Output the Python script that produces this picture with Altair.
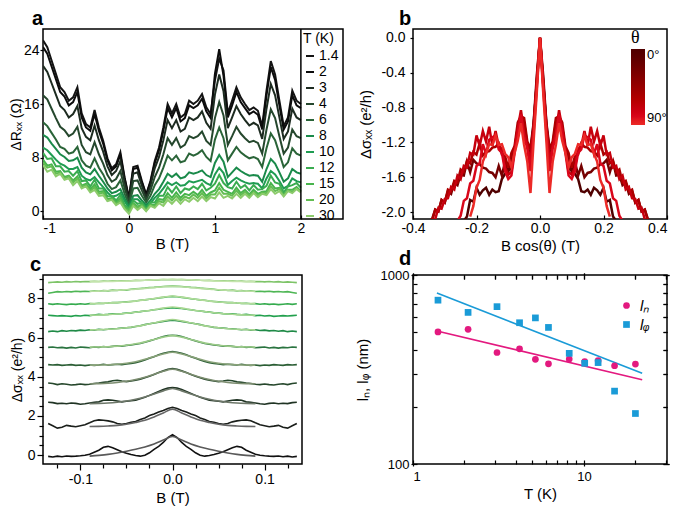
import altair as alt
import pandas as pd

FONT = "Liberation Sans"

# ---------------- panel a : Delta R_xx vs B for several T ----------------
A_T = ["1.4", "2", "3", "4", "6", "8", "10", "12", "15", "20", "30"]
A_COLORS = ["#141414", "#0c0c0c", "#1d2b20", "#25472d", "#2a6438", "#1a8a4a",
            "#1f9c52", "#3aac50", "#48b44c", "#62bd52", "#8dcb6c"]
A_B = [round(-1 + 0.05 * i, 2) for i in range(61)]

A14 = [25.5,24.5,22.5,20.5,18.5,17.8,16.5,17.0,18.5,14.6,13.0,12.5,15.1,12.5,10.5,7.9,6.4,7.0,8.8,5.0,
       2.0,6.6,6.8,4.5,2.5,4.5,7.5,9.5,12.5,16.0,14.6,16.0,14.0,14.5,16.5,16.0,16.5,17.5,15.5,14.5,
       19.5,22.8,21.0,14.6,16.5,18.5,17.0,16.0,15.1,15.5,15.0,12.7,18.0,22.4,20.4,16.5,12.7,14.0,18.0,16.5,16.0]
A2 = [24.5,23.5,21.6,19.7,17.8,17.1,15.8,16.3,17.8,14.0,12.5,12.0,14.5,12.0,10.1,7.6,6.1,6.7,8.4,4.8,
      1.9,6.3,6.5,4.3,2.4,4.3,7.2,9.1,12.0,15.4,14.0,15.4,13.4,13.9,15.8,15.4,15.8,16.8,14.9,13.9,
      20.5,24.2,20.2,14.0,15.8,17.8,16.3,15.4,14.5,14.9,14.4,12.2,17.3,21.5,19.6,15.8,12.2,13.4,17.3,15.8,15.4]
A3 = [21.7,20.8,19.1,17.4,15.7,15.1,14.0,14.5,15.7,12.4,11.1,10.6,12.8,10.6,8.9,6.7,5.4,6.0,7.5,4.3,
      1.7,5.6,5.8,3.8,2.1,3.8,6.4,8.1,10.6,13.6,12.4,13.6,11.9,12.3,14.0,13.6,14.0,14.9,13.2,12.3,
      17.4,20.4,17.9,12.4,14.0,15.7,14.5,13.6,12.8,13.2,12.8,10.8,15.3,19.0,17.3,14.0,10.8,11.9,15.3,14.0,13.6]
A4 = [17.3,16.7,15.3,13.9,12.6,12.1,11.2,11.6,12.6,9.9,8.8,8.5,10.3,8.5,7.1,5.4,4.4,4.8,6.0,3.4,
      1.4,4.5,4.6,3.1,1.7,3.1,5.1,6.5,8.5,10.9,9.9,10.9,9.5,9.9,11.2,10.9,11.2,11.9,10.5,9.9,
      13.9,16.3,14.3,9.9,11.2,12.6,11.6,10.9,10.3,10.5,10.2,8.6,12.2,15.2,13.9,11.2,8.6,9.5,12.2,11.2,10.9]
A6 = [13.3,12.7,11.7,10.7,9.6,9.3,8.6,8.8,9.6,7.6,6.8,6.5,7.9,6.5,5.5,4.1,3.3,3.6,4.6,2.6,
      1.0,3.4,3.5,2.3,1.3,2.3,3.9,4.9,6.5,8.3,7.6,8.3,7.3,7.5,8.6,8.3,8.6,9.1,8.1,7.5,
      10.7,12.5,10.9,7.6,8.6,9.6,8.8,8.3,7.9,8.1,7.8,6.6,9.4,11.6,10.6,8.6,6.6,7.3,9.4,8.6,8.3]
A8 = [11.4,11.0,10.1,9.3,8.5,8.1,7.5,7.6,8.0,6.5,5.8,5.5,6.3,5.3,4.4,3.4,2.7,2.9,3.3,1.9,
      0.7,2.3,2.4,1.6,0.9,1.6,2.6,3.3,4.4,5.6,5.1,5.6,4.9,5.1,5.8,5.6,5.8,6.1,5.4,5.1,
      7.2,8.4,7.4,5.1,5.8,6.5,6.0,5.6,5.3,5.4,5.3,4.4,6.3,7.8,7.1,5.8,4.4,4.9,6.3,5.8,5.6]
A10 = [9.5,9.1,8.4,7.7,7.1,6.8,6.3,6.3,6.6,5.3,4.8,4.6,5.1,4.3,3.6,2.8,2.2,2.3,2.7,1.5,
       0.5,1.8,1.8,1.2,0.7,1.2,2.0,2.6,3.4,4.3,3.9,4.3,3.8,3.9,4.5,4.3,4.5,4.7,4.2,3.9,
       5.5,6.5,5.7,3.9,4.5,5.0,4.6,4.3,4.1,4.2,4.1,3.4,4.9,6.0,5.5,4.5,3.4,3.8,4.9,4.5,4.3]
A12 = [8.7,7.8,7.9,6.7,6.7,5.9,6.0,5.3,6.0,4.5,4.6,3.7,4.7,3.4,3.4,2.2,2.3,1.6,2.4,0.9,
       0.4,1.6,1.1,1.3,0.3,1.3,1.3,2.3,2.3,3.6,2.8,3.7,2.7,3.4,3.2,3.7,3.3,4.1,3.1,3.5,
       4.1,5.4,4.2,3.6,3.4,4.4,3.5,3.9,3.1,3.9,3.2,3.3,3.8,5.3,4.3,4.1,2.8,3.7,3.9,4.2,3.5]
A15 = [7.7,6.8,7.0,5.9,6.0,5.1,5.3,4.6,5.2,3.8,4.1,3.3,4.0,2.9,3.0,1.8,2.0,1.3,1.9,0.6,
       0.2,1.2,0.7,1.0,0.2,1.0,0.9,1.8,1.7,2.7,2.0,2.8,2.0,2.6,2.4,2.9,2.4,3.2,2.3,2.8,
       3.1,4.2,3.2,2.9,2.6,3.5,2.7,3.2,2.5,3.2,2.6,2.9,3.0,4.2,3.4,3.5,2.4,3.2,3.2,3.6,3.0]
A20 = [7.3,6.5,6.7,5.6,5.8,4.9,5.2,4.3,4.9,3.7,3.9,3.0,3.6,2.6,2.8,1.6,1.8,1.1,1.6,0.4,
       0.0,1.0,0.5,0.9,0.1,0.9,0.7,1.5,1.3,2.2,1.6,2.3,1.6,2.2,1.9,2.5,2.0,2.7,1.9,2.5,
       2.5,3.5,2.6,2.6,2.3,3.1,2.4,2.9,2.3,2.9,2.3,2.8,2.7,3.7,3.0,3.3,2.3,3.1,2.9,3.4,2.9]
A30 = [6.9,5.9,6.2,5.2,5.6,4.7,4.9,3.9,4.5,3.4,3.7,2.8,3.2,2.3,2.4,1.5,1.7,0.9,1.3,0.3,
       -0.4,0.8,0.2,0.7,0.0,0.8,0.5,1.2,0.8,1.7,1.1,1.8,1.1,1.8,1.4,2.0,1.5,2.2,1.5,2.1,
       1.9,2.8,2.0,2.3,1.9,2.6,2.0,2.6,2.0,2.7,2.1,2.6,2.4,3.3,2.6,3.0,2.2,3.0,2.7,3.3,2.8]
A_SERIES = [A14, A2, A3, A4, A6, A8, A10, A12, A15, A20, A30]

# ---------------- panel b : Delta sigma vs B cos(theta) ----------------
B_X = [round(0.01 * i, 2) for i in range(36)]
B_THETA = [0, 25, 55, 70, 80, 90]
B_0 = [0.0,-0.52,-0.98,-1.38,-1.22,-1.08,-0.93,-1.14,-1.27,-1.5,-1.52,-1.56,-1.62,-1.76,-1.77,-1.74,-1.8,
       -1.72,-1.75,-1.8,-1.72,-1.88,-1.86,-2.05,-2.1]
B_25 = [0.0,-0.43,-0.97,-1.27,-1.23,-0.97,-0.93,-1.02,-1.29,-1.37,-1.54,-1.42,-1.58,-1.47,-1.6,-1.55,-1.54,
        -1.5,-1.49,-1.45,-1.44,-1.4,-1.54,-1.42,-1.58,-1.57,-1.69,-1.66,-1.79,-1.76,-1.89,-1.86,-1.99,-1.97,
        -2.08,-2.1]
B_55 = [0.0,-0.48,-1.03,-1.27,-1.19,-0.92,-0.9,-0.97,-1.24,-1.32,-1.49,-1.36,-1.34,-1.21,-1.25,-1.26,-1.3,
        -1.31,-1.35,-1.21,-1.34,-1.31,-1.44,-1.41,-1.54,-1.51,-1.66,-1.64,-1.76,-1.74,-1.89,-1.86,-1.99,-1.97,
        -2.1]
B_70 = [0.0,-0.52,-1.02,-1.43,-1.22,-1.09,-0.83,-1.04,-1.27,-1.54,-1.57,-1.49,-1.27,-1.24,-1.07,-1.24,-1.02,
        -1.19,-1.07,-1.24,-1.12,-1.34,-1.32,-1.49,-1.47,-1.62,-1.58,-1.74,-1.71,-1.84,-1.85,-1.96,-1.95,-2.08]
B_80 = [0.0,-0.57,-1.08,-1.53,-1.27,-1.13,-0.88,-1.08,-1.32,-1.58,-1.62,-1.53,-1.32,-1.28,-1.12,-1.14,-1.17,
        -1.33,-1.22,-1.44,-1.47,-1.64,-1.67,-1.84,-1.87,-2.04,-2.1]
B_90 = [0.0,-0.62,-1.18,-1.78,-1.42,-1.23,-0.98,-1.18,-1.32,-1.48,-1.37,-1.33,-1.22,-1.23,-1.12,-1.23,-1.22,
        -1.33,-1.42,-1.63,-1.72,-1.93,-2.05]
B_SERIES = [B_0, B_25, B_55, B_70, B_80, B_90]

# ---------------- panel c : stacked Delta sigma vs B with fits ----------------
C_X = [round(0.005 * i, 3) for i in range(28)]
C_COLORS = ["#111111", "#1b1f1b", "#203424", "#26472c", "#2b5e35", "#2a7440",
            "#1f8a47", "#22a04d", "#35ab4e", "#4fb655", "#7ec468"]
C_FIT_COLORS = ["#5a5a5a", "#666666", "#6e786a", "#7c8d70", "#8aa37a", "#9ccb88",
                "#a6d48f", "#aad892", "#b2dc9a", "#b8dea0", "#c4e4ac"]
C1 = [1.05,0.9,0.65,0.45,0.3,0.12,0.0,-0.05,-0.02,0.03,0.1,0.18,0.28,0.38,0.45,0.4,0.25,0.15,0.05,0.0,
      -0.03,-0.05,-0.06,-0.04,-0.08,-0.05,-0.09,-0.06]
C2 = [2.44,2.38,2.28,2.2,2.1,2.02,1.9,1.82,1.72,1.68,1.62,1.58,1.62,1.7,1.75,1.78,1.8,1.76,1.65,1.55,
      1.5,1.45,1.48,1.52,1.42,1.38,1.5,1.62]
C3 = [3.45,3.42,3.35,3.25,3.15,3.05,2.95,2.88,2.8,2.78,2.75,2.72,2.76,2.8,2.82,2.8,2.72,2.7,2.66,2.62,
      2.6,2.64,2.66,2.62,2.65,2.63,2.68,2.7]
C4 = [4.42,4.38,4.3,4.22,4.12,4.02,3.95,3.88,3.82,3.78,3.75,3.78,3.82,3.8,3.74,3.72,3.68,3.66,3.62,3.6,
      3.63,3.6,3.58,3.62,3.64,3.6,3.66,3.68]
C5 = [5.28,5.25,5.2,5.12,5.02,4.95,4.86,4.78,4.72,4.68,4.65,4.62,4.64,4.62,4.6,4.64,4.6,4.58,4.6,4.57,
      4.6,4.58,4.62,4.6,4.58,4.62,4.6,4.62]
C6 = [6.12,6.1,6.05,5.98,5.9,5.83,5.76,5.7,5.66,5.62,5.6,5.56,5.58,5.55,5.52,5.54,5.5,5.52,5.48,5.5,
      5.52,5.47,5.5,5.46,5.5,5.48,5.52,5.5]
C7 = [6.88,6.86,6.82,6.78,6.74,6.7,6.66,6.6,6.56,6.52,6.5,6.48,6.46,6.45,6.42,6.4,6.42,6.38,6.4,6.36,
      6.38,6.34,6.36,6.32,6.35,6.3,6.33,6.3]
C8 = [7.52,7.5,7.48,7.44,7.42,7.38,7.35,7.32,7.3,7.26,7.25,7.22,7.2,7.21,7.18,7.16,7.18,7.15,7.12,7.14,
      7.1,7.12,7.08,7.1,7.12,7.1,7.12,7.14]
C9 = [8.1,8.08,8.05,8.02,7.98,7.95,7.92,7.9,7.86,7.84,7.82,7.8,7.78,7.79,7.76,7.74,7.75,7.72,7.73,7.7,
      7.72,7.69,7.71,7.68,7.7,7.72,7.69,7.72]
C10 = [8.62,8.61,8.6,8.58,8.56,8.55,8.52,8.5,8.48,8.46,8.42,8.44,8.4,8.42,8.38,8.4,8.36,8.38,8.35,8.36,
       8.34,8.36,8.33,8.35,8.32,8.34,8.3,8.26]
C11 = [8.96,8.95,8.96,8.94,8.93,8.94,8.92,8.91,8.92,8.9,8.89,8.9,8.88,8.89,8.87,8.88,8.86,8.87,8.85,8.86,
       8.84,8.86,8.83,8.85,8.82,8.84,8.82,8.8]
C_SERIES = [C1, C2, C3, C4, C5, C6, C7, C8, C9, C10, C11]

C_FIT_X = [0.0, 0.01, 0.02, 0.03, 0.04, 0.05, 0.06, 0.07, 0.08, 0.09]
F1 = [0.95, 0.77, 0.57, 0.42, 0.3, 0.2, 0.11, 0.04, -0.01, -0.05]
F2 = [2.35, 2.15, 1.95, 1.78, 1.67, 1.58, 1.52, 1.49, 1.47, 1.46]
F3 = [3.4, 3.28, 3.12, 2.97, 2.85, 2.76, 2.7, 2.66, 2.64, 2.63]
F4 = [4.38, 4.28, 4.13, 3.98, 3.86, 3.77, 3.71, 3.67, 3.65, 3.64]
F5 = [5.25, 5.16, 5.03, 4.89, 4.77, 4.69, 4.64, 4.61, 4.6, 4.59]
F6 = [6.1, 6.02, 5.9, 5.78, 5.68, 5.61, 5.56, 5.53, 5.52, 5.51]
F7 = [6.92, 6.85, 6.75, 6.65, 6.56, 6.5, 6.45, 6.42, 6.4, 6.39]
F8 = [7.56, 7.5, 7.42, 7.35, 7.29, 7.24, 7.2, 7.17, 7.15, 7.14]
F9 = [8.12, 8.06, 7.99, 7.92, 7.86, 7.81, 7.78, 7.76, 7.74, 7.73]
F10 = [8.62, 8.59, 8.55, 8.51, 8.47, 8.44, 8.41, 8.39, 8.37, 8.36]
F11 = [8.97, 8.96, 8.94, 8.92, 8.9, 8.88, 8.87, 8.86, 8.85, 8.85]
F_SERIES = [F1, F2, F3, F4, F5, F6, F7, F8, F9, F10, F11]

# ---------------- panel d : lengths vs T ----------------
D_T = [1.4, 2.1, 3.1, 4.2, 5.2, 6.2, 8.2, 10.1, 12.1, 15.1, 20.0]
D_LN = [500, 516, 389, 407, 358, 339, 359, 348, 352, 331, 338]
D_LPHI = [736, 634, 680, 559, 593, 528, 385, 341, 344, 243, 185]
D_FIT_T = [1.38, 21.9]
D_FIT_LN = [505, 279]
D_FIT_LPHI = [802, 302]
D_NAMES = ["l\u2099", "l\u1d69"]
D_XTICKS = [1, 2, 3, 4, 5, 6, 7, 8, 9, 10, 20, 30]
D_YTICKS = [100, 200, 300, 400, 500, 600, 700, 800, 900, 1000]


def mirror(xs, vals):
    n = len(vals)
    out = [(-xs[i], vals[i]) for i in range(n - 1, 0, -1)]
    out += [(xs[i], vals[i]) for i in range(n)]
    return out


def hyph(fmt):
    return "(datum.value < 0 ? '-' : '') + format(abs(datum.value), '" + fmt + "')"


def letter(s, dx, dy=-4):
    return alt.Chart(pd.DataFrame({"t": [s]})).mark_text(
        fontSize=20, fontWeight="bold", font=FONT, align="left", baseline="alphabetic", color="black"
    ).encode(text="t:N", x=alt.value(dx), y=alt.value(dy))


# ---- panel a chart
rows = []
for t, vals in zip(A_T, A_SERIES):
    for b, v in zip(A_B, vals):
        rows.append({"B": b, "dR": v, "T": t})
df_a = pd.DataFrame(rows)

a_lines = alt.Chart(df_a).mark_line(strokeWidth=2, clip=True).encode(
    x=alt.X("B:Q", scale=alt.Scale(domain=[-1, 2.49], nice=False, zero=False),
            axis=alt.Axis(values=[-1, 0, 1, 2], labelExpr=hyph("d"), title="B (T)", titleX=129,
                          offset=-4, tickSize=4, labelPadding=2, titlePadding=1)),
    y=alt.Y("dR:Q", scale=alt.Scale(domain=[-1.16, 27.2], nice=False, zero=False),
            axis=alt.Axis(values=[0, 8, 16, 24], title="\u0394R\u2093\u2093 (\u03a9)", titleFontSize=14,
                          tickSize=3, labelPadding=1, titlePadding=0)),
    color=alt.Color("T:N", scale=alt.Scale(domain=A_T, range=A_COLORS), sort=A_T,
                    legend=alt.Legend(orient="none", legendX=260, legendY=3, title="T (K)",
                                      symbolType="stroke", symbolSize=64, symbolStrokeWidth=2,
                                      labelFontSize=14, titleFontSize=14, titleFontWeight="normal",
                                      rowPadding=2, labelOffset=2, padding=0, titlePadding=3)),
)
a_rule = alt.Chart(pd.DataFrame({"B": [2]})).mark_rule(color="black", strokeWidth=1.5).encode(x="B:Q")
panel_a = alt.layer(a_lines, a_rule, letter("a", -11)).properties(width=300, height=190)

# ---- panel b chart
rows = []
for th, vals in zip(B_THETA, B_SERIES):
    for x, v in mirror(B_X, vals):
        rows.append({"x": x, "ds": v, "theta": th})
df_b = pd.DataFrame(rows)

b_lines = alt.Chart(df_b).mark_line(strokeWidth=2.5, clip=True).encode(
    x=alt.X("x:Q", scale=alt.Scale(domain=[-0.4, 0.4], nice=False, zero=False),
            axis=alt.Axis(values=[-0.4, -0.2, 0, 0.2, 0.4], labelExpr=hyph(".1f"),
                          labelAlign={"condition": {"test": "datum.value > 0.35", "value": "right"},
                                      "value": "center"},
                          title="B cos(\u03b8) (T)", offset=-4, tickSize=4, labelPadding=2, titlePadding=3)),
    y=alt.Y("ds:Q", scale=alt.Scale(domain=[-2.078, 0.1], nice=False, zero=False),
            axis=alt.Axis(values=[-2.0, -1.6, -1.2, -0.8, -0.4, 0.0], labelExpr=hyph(".1f"),
                          title="\u0394\u03c3\u2093\u2093 (e\u00b2/h)", tickSize=3, labelPadding=5,
                          titlePadding=7)),
    color=alt.Color("theta:Q", scale=alt.Scale(domain=[90, 0], range=["#ec2a27", "#000000"]),
                    legend=alt.Legend(orient="none", legendX=218, legendY=0, title="\u03b8",
                                      titleFont="Liberation Serif", titleFontSize=18,
                                      titleFontWeight="normal", gradientLength=76, gradientThickness=14,
                                      values=[0, 90], labelExpr="datum.value + '\u00b0'", labelFontSize=13,
                                      direction="vertical", gradientStrokeWidth=0, titlePadding=2,
                                      padding=0)),
    detail="theta:N",
    order=alt.Order("x:Q"),
)
panel_b = alt.layer(b_lines, letter("b", -14)).properties(width=254, height=190)

# ---- panel c chart
rows = []
for k, vals in enumerate(C_SERIES):
    for x, v in mirror(C_X, vals):
        rows.append({"B": x, "ds": v, "curve": k})
df_c = pd.DataFrame(rows)
rows = []
for k, vals in enumerate(F_SERIES):
    for x, v in mirror(C_FIT_X, vals):
        rows.append({"B": x, "ds": v, "fit": k})
df_cf = pd.DataFrame(rows)

MAJ_X = "abs(datum.value * 10 - round(datum.value * 10)) < 0.01"
cx = alt.X("B:Q", scale=alt.Scale(domain=[-0.1406, 0.1406], nice=False, zero=False),
           axis=alt.Axis(values=[round(-0.125 + 0.025 * i, 3) for i in range(11)],
                         labelExpr=MAJ_X + " ? (" + hyph(".1f") + ") : ''",
                         tickSize={"condition": {"test": MAJ_X, "value": 6}, "value": 4},
                         title="B (T)", labelPadding=2, titlePadding=4))
cy = alt.Y("ds:Q", scale=alt.Scale(domain=[-0.45, 9.19], nice=False, zero=False),
           axis=alt.Axis(values=[0.5 * i for i in range(19)],
                         labelExpr="datum.value % 2 == 0 ? format(datum.value, 'd') : ''",
                         tickSize={"condition": {"test": "datum.value % 2 == 0", "value": 6}, "value": 4},
                         title="\u0394\u03c3\u2093\u2093 (e\u00b2/h)", titleFontSize=14,
                         labelPadding=2, titlePadding=3))
c_lines = alt.Chart(df_c).mark_line(strokeWidth=1.6, clip=True).encode(
    x=cx, y=cy,
    color=alt.Color("curve:N", scale=alt.Scale(domain=list(range(11)), range=C_COLORS), legend=None),
)
c_fits = alt.Chart(df_cf).mark_line(strokeWidth=1.6, interpolate="monotone", clip=True).encode(
    x=cx, y=cy,
    color=alt.Color("fit:N", scale=alt.Scale(domain=list(range(11)), range=C_FIT_COLORS), legend=None),
)
panel_c = alt.layer(c_lines, c_fits, letter("c", -13)).resolve_scale(color="independent").properties(
    width=259, height=189)

# ---- panel d chart
df_d = pd.DataFrame({"T": D_T + D_T, "l": D_LN + D_LPHI,
                     "series": [D_NAMES[0]] * len(D_T) + [D_NAMES[1]] * len(D_T)})
df_dfit_n = pd.DataFrame({"T": D_FIT_T, "l": D_FIT_LN})
df_dfit_p = pd.DataFrame({"T": D_FIT_T, "l": D_FIT_LPHI})

d_xscale = alt.Scale(type="log", domain=[1, 30.6], nice=False)
d_yscale = alt.Scale(type="log", domain=[100, 1000], nice=False)
X_MAJ = "datum.value == 1 || datum.value == 10"
Y_MAJ = "datum.value == 100 || datum.value == 1000"
dx_ = alt.X("T:Q", scale=d_xscale,
            axis=alt.Axis(values=D_XTICKS,
                          labelExpr=X_MAJ + " ? format(datum.value, 'd') : ''",
                          tickSize={"condition": {"test": X_MAJ, "value": 6}, "value": 4},
                          title="T (K)", offset=-4, labelPadding=4, titlePadding=3, labelFontSize=13))
dy_ = alt.Y("l:Q", scale=d_yscale,
            axis=alt.Axis(values=D_YTICKS,
                          labelExpr=Y_MAJ + " ? format(datum.value, 'd') : ''",
                          tickSize={"condition": {"test": Y_MAJ, "value": 6}, "value": 4},
                          title="l\u2099, l\u1d69 (nm)", offset=-4, labelPadding=2,
                          titlePadding=10, labelFontSize=13))
dx_top = alt.X("T:Q", scale=d_xscale,
               axis=alt.Axis(orient="top", values=D_XTICKS, labels=False, title=None, offset=-4,
                             tickSize={"condition": {"test": X_MAJ, "value": 6}, "value": 4}))
dy_right = alt.Y("l:Q", scale=d_yscale,
                 axis=alt.Axis(orient="right", values=D_YTICKS, labels=False, title=None, offset=-4,
                               tickSize={"condition": {"test": Y_MAJ, "value": 6}, "value": 4}))
d_pts = alt.Chart(df_d).mark_point(filled=True, size=45, opacity=1).encode(
    x=dx_, y=dy_,
    color=alt.Color("series:N", scale=alt.Scale(domain=D_NAMES, range=["#e3197f", "#1a9bd7"]),
                    legend=alt.Legend(orient="none", legendX=206, legendY=23, title=None,
                                      labelFontSize=15, labelFontStyle="italic", symbolSize=45,
                                      rowPadding=3, padding=0, labelOffset=6)),
    shape=alt.Shape("series:N", scale=alt.Scale(domain=D_NAMES, range=["circle", "square"])),
)
d_fit_n = alt.Chart(df_dfit_n).mark_line(color="#e3197f", strokeWidth=1.6).encode(x=dx_top, y=dy_right)
d_fit_p = alt.Chart(df_dfit_p).mark_line(color="#1a9bd7", strokeWidth=1.6).encode(x=dx_top, y=dy_right)
panel_d = alt.layer(d_fit_n, d_fit_p, d_pts, letter("d", -14, -10)).resolve_axis(
    x="independent", y="independent").properties(width=254, height=189)

chart = alt.concat(panel_a, panel_b, panel_c, panel_d, columns=2,
                   spacing={"row": 56, "column": 70}, bounds="flush").resolve_scale(
    color="independent", shape="independent"
).properties(padding=0, background="white").configure(font=FONT).configure_view(
    stroke="black", strokeWidth=1.5
).configure_axis(
    labelFont=FONT, titleFont=FONT, labelFontSize=14, titleFontSize=15, titleFontWeight="normal",
    labelColor="black", titleColor="black", tickColor="black", tickWidth=1.2, domain=False, grid=False
).configure_legend(labelFont=FONT, titleFont=FONT, labelColor="black", titleColor="black")

chart.save("out.html", embed_options={"renderer": "svg", "actions": False})
